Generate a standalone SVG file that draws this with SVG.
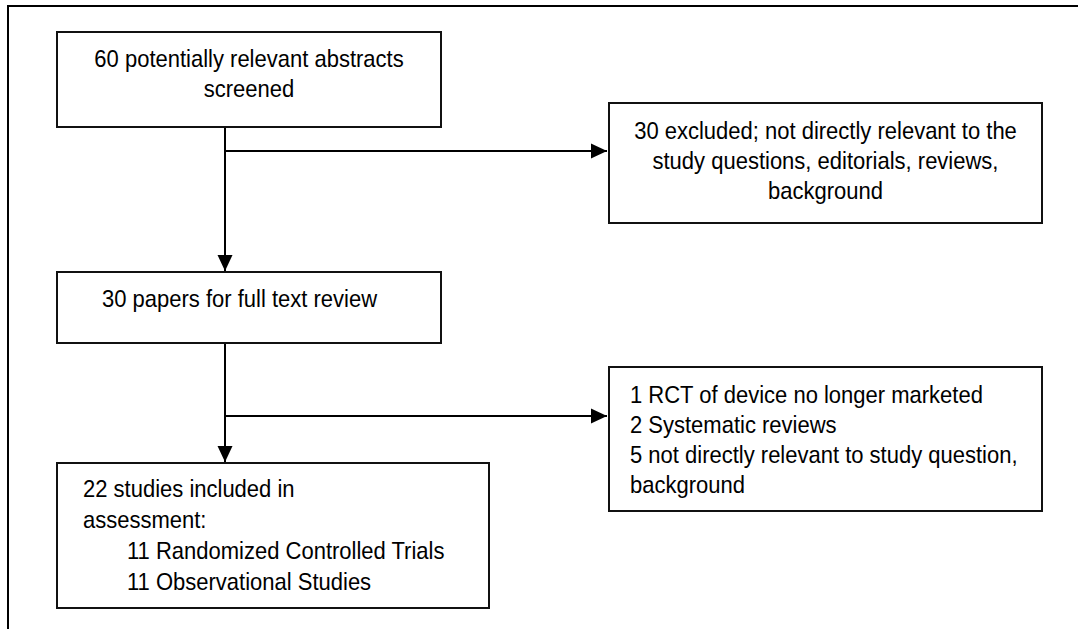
<svg xmlns="http://www.w3.org/2000/svg" width="1078" height="629" viewBox="0 0 1078 629">
<style>
.box{fill:#fff;stroke:#111;stroke-width:2}
.ln{fill:none;stroke:#000;stroke-width:2}
.t{font-family:"Liberation Sans",Arial,sans-serif;font-size:24px;fill:#000}
.c{text-anchor:middle}
</style>
<defs>
<marker id="ah" markerUnits="userSpaceOnUse" markerWidth="16" markerHeight="16" viewBox="0 0 16 16" refX="16" refY="8" orient="auto">
<path d="M0,0.5 L16,8 L0,15.5 Z" fill="#000"/>
</marker>
</defs>
<rect width="1078" height="629" fill="#fff"/>
<path class="ln" d="M8,629 V6 H1078"/>
<g id="connectors">
<path class="ln" d="M225,127 V271" marker-end="url(#ah)"/>
<path class="ln" d="M225,151 H607" marker-end="url(#ah)"/>
<path class="ln" d="M225,343 V462" marker-end="url(#ah)"/>
<path class="ln" d="M225,416 H607" marker-end="url(#ah)"/>
</g>
<g id="n1">
<rect class="box" x="57" y="32" width="384" height="95"/>
<text class="t c" transform="matrix(0.9167 0 0 1 249 67)">60 potentially relevant abstracts</text>
<text class="t c" transform="matrix(0.9167 0 0 1 249 97)">screened</text>
</g>
<g id="n2">
<rect class="box" x="609" y="103" width="433" height="120"/>
<text class="t c" transform="matrix(0.9167 0 0 1 825.5 139)">30 excluded; not directly relevant to the</text>
<text class="t c" transform="matrix(0.9167 0 0 1 825.5 169)">study questions, editorials, reviews,</text>
<text class="t c" transform="matrix(0.9167 0 0 1 825.5 199)">background</text>
</g>
<g id="n3">
<rect class="box" x="57" y="272" width="384" height="71"/>
<text class="t" transform="matrix(0.9167 0 0 1 102 307)">30 papers for full text review</text>
</g>
<g id="n4">
<rect class="box" x="609" y="367" width="433" height="144"/>
<text class="t" transform="matrix(0.9167 0 0 1 630 403)">1 RCT of device no longer marketed</text>
<text class="t" transform="matrix(0.9167 0 0 1 630 433)">2 Systematic reviews</text>
<text class="t" transform="matrix(0.9167 0 0 1 630 463)">5 not directly relevant to study question,</text>
<text class="t" transform="matrix(0.9167 0 0 1 630 493)">background</text>
</g>
<g id="n5">
<rect class="box" x="57" y="463" width="432" height="145"/>
<text class="t" transform="matrix(0.9167 0 0 1 83 497)">22 studies included in</text>
<text class="t" transform="matrix(0.9167 0 0 1 83 528)">assessment:</text>
<text class="t" transform="matrix(0.9167 0 0 1 127 559)">11 Randomized Controlled Trials</text>
<text class="t" transform="matrix(0.9167 0 0 1 127 590)">11 Observational Studies</text>
</g>
</svg>
